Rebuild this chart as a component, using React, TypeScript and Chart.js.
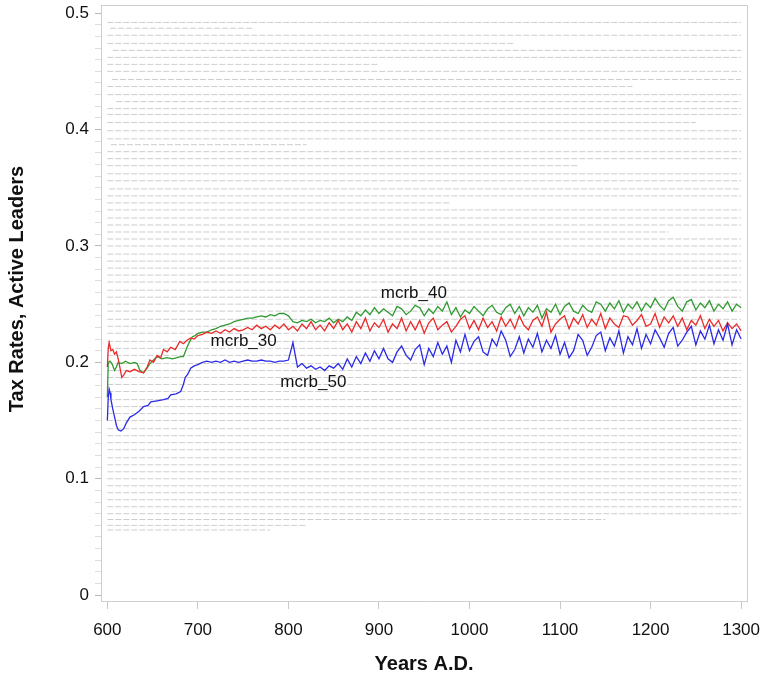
import { useEffect, useRef } from 'react';
import { Chart, registerables } from 'chart.js';

Chart.register(...registerables);

const FONT = '"Liberation Sans", Arial, Helvetica, sans-serif';

// ---------- data ----------
const Y_TICK_LABELS = ['0', '0.1', '0.2', '0.3', '0.4', '0.5'];
const X_TICK_LABELS = ['600', '700', '800', '900', '1000', '1100', '1200', '1300'];
const Y_TITLE = 'Tax Rates, Active Leaders';
const X_TITLE = 'Years A.D.';

// early years (fine detail)
const BLUE_EARLY_YEARS = [600, 601, 602, 603, 604, 606, 608, 610, 612, 615, 618, 621, 625, 630, 635, 640, 645, 648, 655, 662, 667, 670, 676, 681, 684, 686, 689, 692, 696, 700];
const BLUE_EARLY = [.150, .170, .177, .174, .168, .160, .153, .146, .142, .141, .143, .148, .153, .155, .158, .162, .163, .166, .167, .168, .169, .172, .173, .175, .181, .187, .190, .195, .197, .198];

const RED_EARLY_YEARS = [600, 601, 602, 604, 606, 608, 610, 612, 614, 616, 618, 621, 625, 630, 635, 640, 644, 647, 651, 655, 659, 662, 666, 670, 675, 680, 684, 688, 692, 696, 700];
const RED_EARLY = [.196, .212, .217, .210, .211, .207, .209, .203, .195, .187, .189, .193, .192, .194, .192, .191, .196, .202, .200, .206, .204, .211, .209, .213, .211, .218, .216, .219, .221, .220, .223];

const GREEN_EARLY_YEARS = [600, 601, 603, 605, 608, 610, 612, 616, 620, 625, 630, 633, 636, 640, 644, 647, 651, 655, 660, 666, 672, 677, 681, 684, 686, 688, 691, 694, 697, 700];
const GREEN_EARLY = [.170, .200, .201, .199, .193, .196, .200, .199, .201, .199, .200, .199, .193, .191, .195, .199, .202, .205, .203, .204, .203, .204, .205, .205, .209, .213, .218, .222, .223, .225];

// later years, every 5 years
const TAIL_YEARS = [
  705, 710, 715, 720, 725, 730, 735, 740, 745, 750,
  755, 760, 765, 770, 775, 780, 785, 790, 795, 800,
  805, 810, 815, 820, 825, 830, 835, 840, 845, 850,
  855, 860, 865, 870, 875, 880, 885, 890, 895, 900,
  905, 910, 915, 920, 925, 930, 935, 940, 945, 950,
  955, 960, 965, 970, 975, 980, 985, 990, 995, 1000,
  1005, 1010, 1015, 1020, 1025, 1030, 1035, 1040, 1045, 1050,
  1055, 1060, 1065, 1070, 1075, 1080, 1085, 1090, 1095, 1100,
  1105, 1110, 1115, 1120, 1125, 1130, 1135, 1140, 1145, 1150,
  1155, 1160, 1165, 1170, 1175, 1180, 1185, 1190, 1195, 1200,
  1205, 1210, 1215, 1220, 1225, 1230, 1235, 1240, 1245, 1250,
  1255, 1260, 1265, 1270, 1275, 1280, 1285, 1290, 1295, 1300,
];

const MCRB_50 = [
  .200, .201, .200, .201, .200, .202, .200, .201, .200, .201,
  .202, .201, .201, .202, .201, .201, .200, .201, .201, .202,
  .217, .196, .199, .195, .197, .194, .196, .193, .197, .195,
  .199, .194, .203, .196, .205, .199, .208, .201, .210, .203,
  .212, .203, .200, .209, .214, .206, .202, .211, .215, .198,
  .212, .205, .217, .207, .214, .200, .219, .209, .224, .210,
  .218, .222, .209, .206, .220, .214, .227, .219, .205, .211,
  .222, .208, .220, .213, .225, .209, .219, .212, .223, .207,
  .217, .204, .210, .224, .219, .206, .213, .223, .226, .210,
  .221, .214, .227, .208, .222, .215, .229, .212, .224, .216,
  .228, .221, .213, .225, .230, .214, .219, .226, .231, .215,
  .227, .220, .232, .216, .228, .219, .233, .215, .228, .220,
];

const MCRB_30 = [
  .224, .226, .225, .227, .225, .228, .226, .229, .227, .228,
  .230, .228, .232, .229, .231, .228, .232, .229, .233, .228,
  .231, .227, .233, .229, .235, .228, .232, .227, .234, .229,
  .236, .228, .233, .226, .235, .229, .238, .227, .234, .230,
  .237, .226, .233, .229, .238, .227, .235, .228, .236, .225,
  .234, .238, .228, .232, .235, .226, .231, .237, .240, .229,
  .236, .228, .238, .230, .235, .227, .239, .231, .237, .229,
  .240, .232, .228, .236, .239, .231, .243, .226, .233, .237,
  .240, .229, .238, .233, .241, .230, .237, .232, .242, .229,
  .238, .233, .230, .240, .239, .232, .236, .241, .231, .233,
  .242, .230, .239, .234, .240, .231, .238, .228, .236, .232,
  .240, .229, .237, .231, .236, .227, .234, .229, .233, .227,
];

const MCRB_40 = [
  .226, .226, .228, .229, .231, .232, .233, .235, .236, .237,
  .238, .238, .239, .240, .239, .241, .240, .242, .242, .240,
  .235, .234, .236, .235, .237, .234, .236, .235, .238, .234,
  .237, .235, .239, .236, .243, .240, .245, .241, .247, .242,
  .246, .243, .240, .248, .246, .241, .244, .249, .247, .240,
  .246, .242, .248, .244, .252, .241, .247, .239, .245, .242,
  .248, .244, .240, .246, .249, .243, .241, .247, .250, .242,
  .248, .240, .247, .243, .249, .238, .246, .243, .250, .241,
  .248, .251, .244, .242, .249, .245, .243, .252, .250, .244,
  .251, .246, .253, .243, .250, .246, .252, .244, .251, .247,
  .255, .249, .245, .253, .256, .248, .244, .252, .254, .245,
  .251, .247, .253, .244, .250, .246, .252, .244, .250, .247,
];

// faint background leader tax-rate traces: level, start year, end year
const BG_LEVEL = [
  .492, .487, .481, .474, .468, .462, .456, .450, .443, .437,
  .430, .424, .418, .413, .406, .399, .392, .387, .381, .375,
  .369, .362, .356, .349, .343, .337, .331, .324, .318, .312,
  .306, .300, .293, .287, .281, .275, .269, .262, .256, .250,
  .244, .237, .231, .225, .218, .212, .206, .199, .193, .187,
  .181, .175, .168, .162, .156, .150, .143, .137, .131, .125,
  .118, .112, .106, .100, .094, .088, .082, .076, .070, .065,
  .060, .056,
];
const BG_FROM = [
  600, 603, 600, 600, 606, 600, 600, 600, 605, 600,
  600, 610, 600, 600, 600, 600, 600, 604, 600, 600,
  600, 600, 600, 602, 600, 600, 600, 600, 600, 600,
  600, 600, 600, 600, 600, 600, 600, 600, 600, 600,
  600, 600, 600, 600, 600, 600, 600, 600, 600, 600,
  600, 600, 600, 600, 600, 600, 600, 600, 600, 600,
  600, 600, 600, 600, 600, 600, 600, 600, 600, 600,
  600, 600,
];
const BG_TO = [
  1300, 760, 1300, 1050, 1300, 1300, 900, 1300, 1300, 1180,
  1300, 1300, 1300, 1300, 1250, 1300, 1300, 820, 1300, 1300,
  1120, 1300, 1300, 1300, 1300, 980, 1300, 1300, 1300, 1220,
  1300, 1300, 1300, 1300, 1300, 1300, 1300, 1300, 1300, 1300,
  1300, 1300, 1300, 1300, 1300, 1300, 1300, 1300, 1300, 1300,
  1300, 1300, 1300, 1300, 1300, 1300, 1300, 1300, 1300, 1300,
  1300, 1300, 1300, 1300, 1300, 1300, 1300, 1300, 1300, 1150,
  820, 780,
];

// series labels anchored in data coordinates
const SERIES_LABELS = [
  { text: 'mcrb_30', year: 714, value: 0.2184 },
  { text: 'mcrb_40', year: 902, value: 0.2597 },
  { text: 'mcrb_50', year: 791, value: 0.183 },
];

const toPoints = (xs: number[], ys: number[]) => xs.map((x, i) => ({ x, y: ys[i] }));

export default function App() {
  const ref = useRef<HTMLCanvasElement>(null);

  useEffect(() => {
    document.body.style.margin = '0';
    const canvas = ref.current;
    if (!canvas) return;

    const seriesDs = [
      {
        label: 'mcrb_50',
        data: toPoints(BLUE_EARLY_YEARS.concat(TAIL_YEARS), BLUE_EARLY.concat(MCRB_50)),
        borderColor: '#2a2ae8',
      },
      {
        label: 'mcrb_30',
        data: toPoints(RED_EARLY_YEARS.concat(TAIL_YEARS), RED_EARLY.concat(MCRB_30)),
        borderColor: '#ec2a2a',
      },
      {
        label: 'mcrb_40',
        data: toPoints(GREEN_EARLY_YEARS.concat(TAIL_YEARS), GREEN_EARLY.concat(MCRB_40)),
        borderColor: '#2f9a2f',
      },
    ].map((d) => ({ ...d, borderWidth: 1.3, pointRadius: 0, tension: 0, fill: false }));

    const bgDs = BG_LEVEL.map((lv, i) => ({
      label: 'bg' + i,
      data: [
        { x: BG_FROM[i], y: lv },
        { x: BG_TO[i], y: lv },
      ],
      borderColor: 'rgba(145,145,145,0.45)',
      borderWidth: 1,
      borderDash: [6, 2],
      pointRadius: 0,
      fill: false,
    }));

    const framePlugin = {
      id: 'frame',
      afterDraw(chart: any) {
        const { ctx, chartArea: a } = chart;
        ctx.save();
        ctx.strokeStyle = '#cfcfcf';
        ctx.lineWidth = 1;
        ctx.beginPath();
        ctx.moveTo(a.left, a.top + 0.5);
        ctx.lineTo(a.right + 0.5, a.top + 0.5);
        ctx.lineTo(a.right + 0.5, a.bottom);
        ctx.stroke();
        // vertical axis title, placed slightly above the plot's centre like the original
        ctx.fillStyle = '#111';
        ctx.font = `bold 20px ${FONT}`;
        ctx.textAlign = 'center';
        ctx.textBaseline = 'middle';
        ctx.translate(17, (a.top + a.bottom) / 2 - 14);
        ctx.rotate(-Math.PI / 2);
        ctx.fillText(Y_TITLE, 0, 0);
        ctx.restore();
      },
    };

    const labelPlugin = {
      id: 'seriesLabels',
      afterDatasetsDraw(chart: any) {
        const { ctx, scales } = chart;
        ctx.save();
        ctx.font = `17px ${FONT}`;
        ctx.fillStyle = '#111';
        ctx.textAlign = 'left';
        ctx.textBaseline = 'middle';
        SERIES_LABELS.forEach((l) => {
          ctx.fillText(l.text, scales.x.getPixelForValue(l.year), scales.y.getPixelForValue(l.value));
        });
        ctx.restore();
      },
    };

    const isMajor = (v: number) => Math.abs(v * 10 - Math.round(v * 10)) < 1e-6;

    const chart = new Chart(canvas, {
      type: 'line',
      data: { datasets: [...seriesDs, ...bgDs] as any },
      options: {
        responsive: false,
        animation: false,
        events: [],
        layout: { padding: { top: 5, right: 15, left: 0, bottom: 0 } },
        plugins: { legend: { display: false }, tooltip: { enabled: false } },
        scales: {
          x: {
            type: 'linear',
            min: 593,
            max: 1306.5,
            afterFit: (s: any) => {
              s.height = 79;
              s.paddingLeft = 0;
              s.paddingRight = 0;
            },
            ticks: {
              stepSize: 100,
              includeBounds: false,
              padding: 11,
              color: '#111',
              font: { family: FONT, size: 17 },
              callback: (v: any) => {
                const idx = (Number(v) - 600) / 100;
                return X_TICK_LABELS[idx] ?? '';
              },
            },
            grid: { drawOnChartArea: false, drawTicks: true, tickLength: 8, color: '#c8c8c8' },
            border: { color: '#cfcfcf' },
            title: {
              display: true,
              text: X_TITLE,
              color: '#111',
              font: { family: FONT, size: 20, weight: 'bold' },
              padding: { top: 0, bottom: 4 },
            },
          },
          y: {
            min: -0.005,
            max: 0.507,
            afterFit: (s: any) => {
              s.width = 101;
              s.paddingTop = 0;
              s.paddingBottom = 0;
            },
            ticks: {
              stepSize: 0.01,
              includeBounds: false,
              autoSkip: false,
              padding: 6,
              color: '#111',
              font: { family: FONT, size: 17 },
              callback: (v: any) => {
                const n = Number(v);
                if (!isMajor(n)) return '';
                return Y_TICK_LABELS[Math.round(n * 10)] ?? '';
              },
            },
            grid: {
              drawOnChartArea: false,
              drawTicks: true,
              tickLength: 6,
              color: (c: any) => (c.tick && isMajor(c.tick.value) ? '#b8b8b8' : '#dcdcdc'),
            },
            border: { color: '#cfcfcf' },
            title: { display: false },
          },
        },
      },
      plugins: [framePlugin, labelPlugin],
    });

    return () => chart.destroy();
  }, []);

  return (
    <div style={{ width: 762, height: 680 }}>
      <canvas ref={ref} width={762} height={680} style={{ display: 'block' }} />
    </div>
  );
}
